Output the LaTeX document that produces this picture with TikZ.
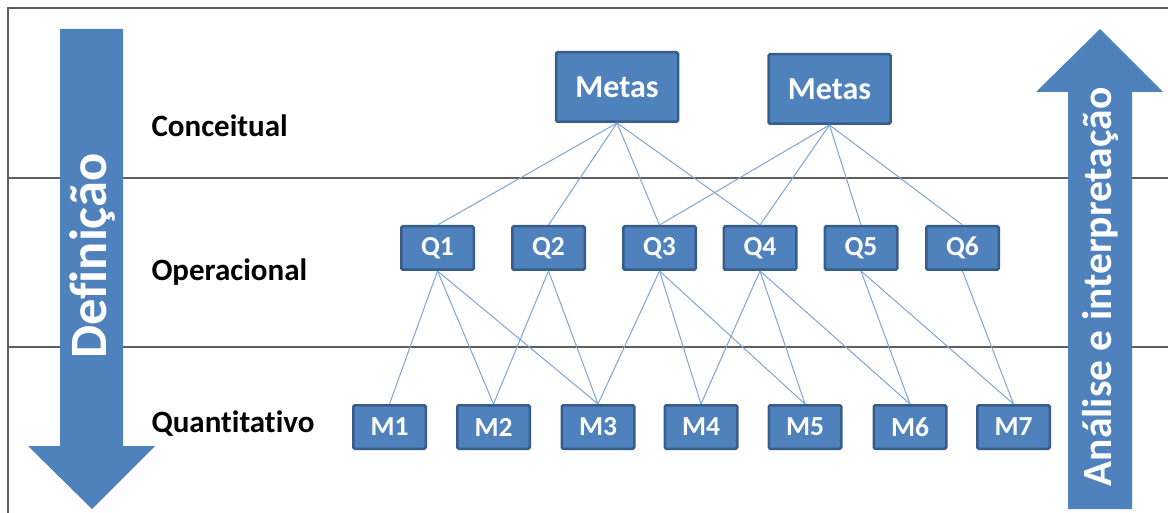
\documentclass[tikz,border=0pt]{standalone}
\usepackage{fontspec}
\setmainfont[Ligatures=NoCommon]{Carlito}
\definecolor{boxfill}{HTML}{4F81BD}
\definecolor{boxdraw}{HTML}{385D8A}
\definecolor{linkc}{HTML}{7EA4D6}
\definecolor{framec}{HTML}{5F5F5F}
\begin{document}
\begin{tikzpicture}[x=1pt,y=-1pt,
 boxn/.style={fill=boxfill,draw=boxdraw,line width=2.5pt,rounded corners=1.5pt,text=white,font=\bfseries\fontsize{27.5}{27.5}\selectfont,inner sep=0pt},
 qbox/.style={boxn,minimum width=72.5pt,minimum height=43.5pt},
 metabox/.style={boxn,minimum width=122pt,minimum height=69.5pt,font=\bfseries\fontsize{32}{32}\selectfont},
 link/.style={draw=linkc,line width=1pt},
 level/.style={anchor=base west,font=\bfseries\fontsize{31}{31}\selectfont},
 sep/.style={draw=framec,line width=1.8pt},
 bigarrow/.style={fill=boxfill},
 arrowtext/.style={text=white,font=\bfseries\fontsize{52.5}{52.5}\selectfont,rotate=90,inner sep=0pt}]
\useasboundingbox (0,0) rectangle (1168,513);
\draw[sep] (8,513) -- (8,8) -- (1168,8);
\draw[sep] (8,178) -- (1168,178);
\draw[sep] (8,347) -- (1168,347);
% big arrows
\fill[bigarrow] (60,29) -- (123,29) -- (123,446) -- (155,446) -- (92,509) -- (28,446) -- (60,446) -- cycle;
\fill[bigarrow] (1100,29) -- (1163,92) -- (1132,92) -- (1132,509) -- (1068,509) -- (1068,92) -- (1036,92) -- cycle;
\node[arrowtext] (def) at (92,256) {Definição};
\node[arrowtext,font=\bfseries\fontsize{41.5}{41.5}\selectfont] (ana) at (1100,287) {Análise e interpretação};
% level labels
\node[level] (lc) at (148,137) {Conceitual};
\node[level] (lo) at (148,280) {Operacional};
\node[level] (lq) at (148,432) {Quantitativo};
% goals
\node[metabox] (g1) at (617,87) {Metas};
\node[metabox] (g2) at (829.5,89) {Metas};
% questions
\node[qbox] (q1) at (437.5,248) {Q1};
\node[qbox] (q2) at (548.5,248) {Q2};
\node[qbox] (q3) at (659.5,248) {Q3};
\node[qbox] (q4) at (760,248) {Q4};
\node[qbox] (q5) at (861,248) {Q5};
\node[qbox] (q6) at (962.5,248) {Q6};
% metrics
\node[qbox] (m1) at (389.5,427) {M1};
\node[qbox] (m2) at (493.5,427) {M2};
\node[qbox] (m3) at (598,427) {M3};
\node[qbox] (m4) at (701,427) {M4};
\node[qbox] (m5) at (805,427) {M5};
\node[qbox] (m6) at (910,427) {M6};
\node[qbox] (m7) at (1013.5,427) {M7};
% links
\foreach \a/\b in {g1/q1,g1/q2,g1/q3,g1/q4,g2/q3,g2/q4,g2/q5,g2/q6,
  q1/m1,q1/m2,q1/m3,q2/m2,q2/m3,q3/m3,q3/m4,q3/m5,q4/m4,q4/m5,q4/m6,q5/m6,q5/m7,q6/m7}
  \draw[link] (\a.south) -- (\b.north);
\end{tikzpicture}
\end{document}
